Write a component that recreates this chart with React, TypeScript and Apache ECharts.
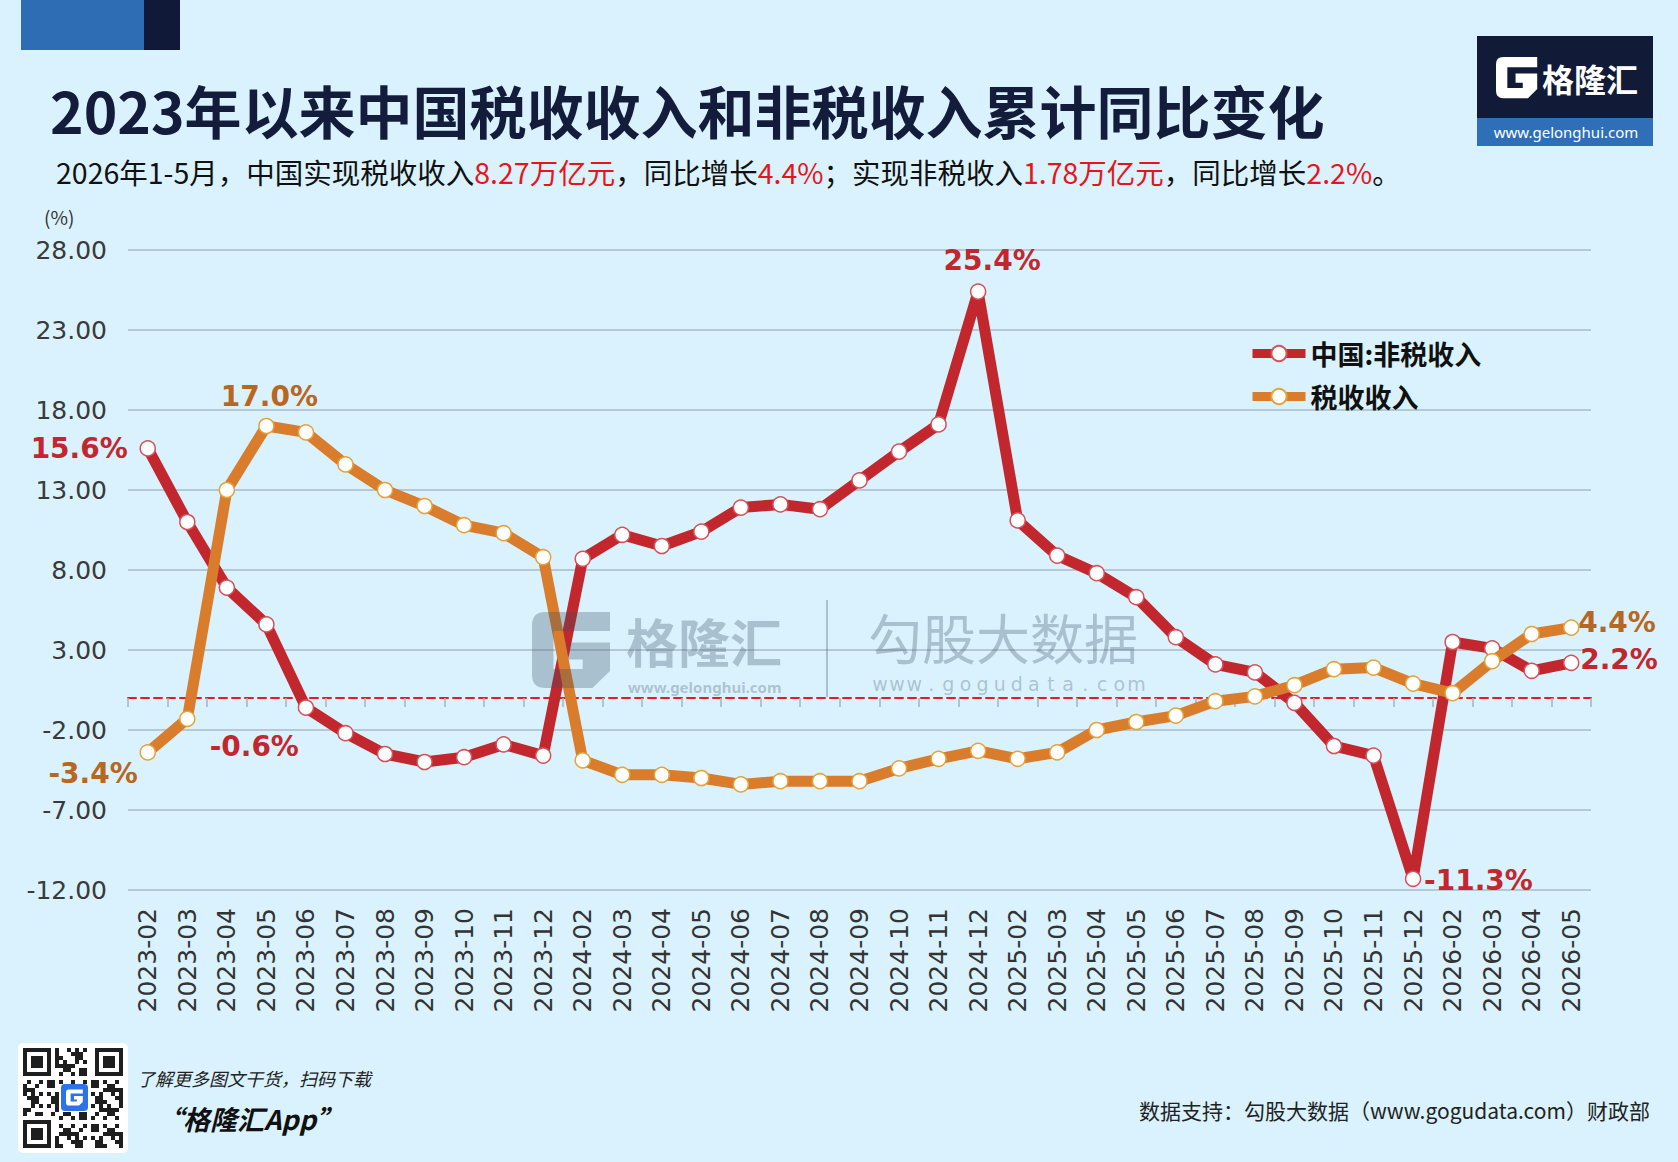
import React, { useEffect, useRef } from "react";
import * as echarts from "echarts";

// ---------------- DATA ----------------
const categories = [
  "2023-02", "2023-03", "2023-04", "2023-05", "2023-06", "2023-07", "2023-08", "2023-09", "2023-10", "2023-11", "2023-12",
  "2024-02", "2024-03", "2024-04", "2024-05", "2024-06", "2024-07", "2024-08", "2024-09", "2024-10", "2024-11", "2024-12",
  "2025-02", "2025-03", "2025-04", "2025-05", "2025-06", "2025-07", "2025-08", "2025-09", "2025-10", "2025-11", "2025-12",
  "2026-02", "2026-03", "2026-04", "2026-05",
];

const NON_TAX_NAME = "中国:非税收入";
const TAX_NAME = "税收收入";

const nonTaxYoY = [
  15.6, 11.0, 6.9, 4.6, -0.6, -2.2, -3.5, -4.0, -3.7, -2.9, -3.6,
  8.7, 10.2, 9.5, 10.4, 11.9, 12.1, 11.8, 13.6, 15.4, 17.1, 25.4,
  11.1, 8.9, 7.8, 6.3, 3.8, 2.1, 1.6, -0.3, -3.0, -3.6, -11.3,
  3.5, 3.1, 1.7, 2.2,
];

const taxYoY = [
  -3.4, -1.3, 13.0, 17.0, 16.6, 14.6, 13.0, 12.0, 10.8, 10.3, 8.8,
  -3.9, -4.8, -4.8, -5.0, -5.4, -5.2, -5.2, -5.2, -4.4, -3.8, -3.3,
  -3.8, -3.4, -2.0, -1.5, -1.1, -0.2, 0.1, 0.8, 1.8, 1.9, 0.9,
  0.3, 2.3, 4.0, 4.4,
];

const Y_MIN = -12;
const Y_MAX = 28;
const Y_STEP = 5;

const TITLE = "2023年以来中国税收收入和非税收入累计同比变化";
const subtitleParts: [string, string][] = [
  ["2026年1-5月，中国实现税收收入", "n"],
  ["8.27万亿元", "r"],
  ["，同比增长", "n"],
  ["4.4%", "r"],
  ["；实现非税收入", "n"],
  ["1.78万亿元", "r"],
  ["，同比增长", "n"],
  ["2.2%", "r"],
  ["。", "n"],
];
const SOURCE = "数据支持：勾股大数据（www.gogudata.com）财政部";

// ---------------- STYLE ----------------
const W = 1678;
const H = 1162;
const BG = "#d9f2fd";
const RED = "#c1272d";
const ORANGE = "#d97c2c";
const RED_LABEL = "#c1272d";
const ORANGE_LABEL = "#b9661f";
const CJK = "Noto Sans CJK SC";
const LATIN = "DejaVu Sans";

// label placements (offset from point, text alignment)
type LabelCfg = { dx: number; dy: number; align: string };
const nonTaxLabelCfg: Record<number, LabelCfg> = {
  0: { dx: -20, dy: 0, align: "right" },
  4: { dx: -7, dy: 39, align: "right" },
  21: { dx: 14, dy: -31, align: "center" },
  32: { dx: 11, dy: 2, align: "left" },
  36: { dx: 9, dy: -3, align: "left" },
};
const taxLabelCfg: Record<number, LabelCfg> = {
  0: { dx: -10, dy: 21, align: "right" },
  3: { dx: 3, dy: -30, align: "center" },
  36: { dx: 7, dy: -5, align: "left" },
};

const G_PATH =
  "M7 0 L40 0 L40 10 L11 10 L11 30 L26 30 L26 25 L19 25 L19 16 L40 16 L40 31 L31 40 L7 40 Q0 40 0 33 L0 7 Q0 0 7 0 Z";

let shapesRegistered = false;
function registerShapes() {
  if (shapesRegistered) return;
  echarts.graphic.registerShape("glogo", echarts.graphic.extendPath(G_PATH, {}) as any);
  shapesRegistered = true;
}

function buildData(values: number[], cfg: Record<number, LabelCfg>, color: string) {
  return values.map((v, i) => {
    const c = cfg[i];
    if (!c) return v;
    return {
      value: v,
      label: {
        show: true,
        position: "inside",
        offset: [c.dx, c.dy],
        align: c.align,
        verticalAlign: "middle",
        color,
        fontFamily: LATIN,
        fontWeight: "bold",
        fontSize: 28,
        formatter: (p: any) => `${Number(p.value).toFixed(1)}%`,
      },
    };
  });
}

function qrElements() {
  const els: any[] = [];
  els.push({ type: "rect", z: 10, shape: { x: 18, y: 1043, width: 110, height: 110, r: 5 }, style: { fill: "#ffffff" } });
  const N = 25;
  const M = 4;
  const ox = 23;
  const oy = 1048;
  const finderOrigins = [
    [0, 0],
    [0, N - 7],
    [N - 7, 0],
  ];
  const inFinderZone = (r: number, c: number) =>
    finderOrigins.some(([fr, fc]) => r >= fr - 1 && r <= fr + 7 && c >= fc - 1 && c <= fc + 7);
  for (let r = 0; r < N; r++) {
    for (let c = 0; c < N; c++) {
      let dark = false;
      const f = finderOrigins.find(([fr, fc]) => r >= fr && r < fr + 7 && c >= fc && c < fc + 7);
      if (f) {
        const rr = r - f[0];
        const cc = c - f[1];
        dark = rr === 0 || rr === 6 || cc === 0 || cc === 6 || (rr >= 2 && rr <= 4 && cc >= 2 && cc <= 4);
      } else if (inFinderZone(r, c)) {
        dark = false;
      } else if (r >= 9 && r <= 15 && c >= 9 && c <= 15) {
        dark = false;
      } else {
        dark = (r * 31 + c * 17 + r * c * 7) % 11 < 5;
      }
      if (dark) {
        els.push({ type: "rect", z: 11, shape: { x: ox + c * M, y: oy + r * M, width: M, height: M }, style: { fill: "#1e1e1e" } });
      }
    }
  }
  els.push({ type: "rect", z: 12, shape: { x: 61, y: 1084, width: 27, height: 27, r: 4 }, style: { fill: "#2b73e6" } });
  els.push({ type: "glogo", z: 13, x: 66, y: 1089.5, scaleX: 0.42, scaleY: 0.4, style: { fill: "#ffffff" } });
  return els;
}

function watermark() {
  const wm = "rgba(60,78,98,0.30)";
  const els: any[] = [];
  els.push({ type: "glogo", z: 100, x: 532, y: 612, scaleX: 1.95, scaleY: 1.9, style: { fill: wm } });
  els.push({
    type: "text", z: 100, x: 626, y: 640,
    style: { text: "格隆汇", fill: wm, font: `bold 52px "${CJK}"`, align: "left", verticalAlign: "middle" },
  });
  els.push({
    type: "text", z: 100, x: 628, y: 687,
    style: { text: "www.gelonghui.com", fill: wm, font: `bold 15px "Noto Sans"`, align: "left", verticalAlign: "middle" },
  });
  els.push({ type: "line", z: 100, shape: { x1: 827, y1: 600, x2: 827, y2: 697 }, style: { stroke: wm, lineWidth: 2 } });
  els.push({
    type: "text", z: 100, x: 868, y: 636,
    style: { text: "勾股大数据", fill: wm, font: `54px "${CJK}"`, align: "left", verticalAlign: "middle" },
  });
  const url = "www.gogudata.com";
  for (let i = 0; i < url.length; i++) {
    els.push({
      type: "text", z: 100, x: 880 + i * 17.1, y: 684,
      style: { text: url[i], fill: wm, font: `19px "DejaVu Sans"`, align: "center", verticalAlign: "middle" },
    });
  }
  return els;
}

function decorations() {
  const els: any[] = [];
  // top-left tab
  els.push({ type: "rect", shape: { x: 21, y: 0, width: 123, height: 50 }, style: { fill: "#2e6db4" } });
  els.push({ type: "rect", shape: { x: 144, y: 0, width: 36, height: 50 }, style: { fill: "#101a38" } });
  // top-right logo box
  els.push({ type: "rect", shape: { x: 1477, y: 36, width: 176, height: 82 }, style: { fill: "#111a36" } });
  els.push({ type: "rect", shape: { x: 1477, y: 118, width: 176, height: 28 }, style: { fill: "#2f6fb8" } });
  els.push({ type: "glogo", x: 1496, y: 57, scaleX: 1.03, scaleY: 1.03, style: { fill: "#ffffff" } });
  els.push({
    type: "text", x: 1542, y: 78,
    style: { text: "格隆汇", fill: "#ffffff", font: `bold 32px "${CJK}"`, align: "left", verticalAlign: "middle" },
  });
  els.push({
    type: "text", x: 1566, y: 132,
    style: { text: "www.gelonghui.com", fill: "#ffffff", font: `15px "Noto Sans"`, align: "center", verticalAlign: "middle" },
  });
  // unit label
  els.push({
    type: "text", x: 44, y: 216,
    style: { text: "(%)", fill: "#333333", font: `19px "${CJK}"`, align: "left", verticalAlign: "middle" },
  });
  // footer
  els.push({
    type: "text", x: 137, y: 1078,
    style: { text: "了解更多图文干货，扫码下载", fill: "#222222", font: `italic 18px "${CJK}"`, align: "left", verticalAlign: "middle" },
  });
  els.push({
    type: "text", x: 156, y: 1118,
    style: { text: "“格隆汇App”", fill: "#111111", font: `italic bold 27px "${CJK}"`, align: "left", verticalAlign: "middle" },
  });
  els.push({
    type: "text", x: 1650, y: 1110,
    style: { text: SOURCE, fill: "#222222", font: `21px "${CJK}"`, align: "right", verticalAlign: "middle" },
  });
  return els;
}

function buildOption(): any {
  const subtitleText = subtitleParts.map(([t, k]) => `{${k}|${t}}`).join("");
  return {
    animation: false,
    backgroundColor: BG,
    title: [
      {
        text: TITLE,
        left: 50,
        top: 80,
        padding: 0,
        textStyle: { fontFamily: CJK, fontWeight: "bold", fontSize: 57, color: "#131c3a" },
      },
      {
        text: subtitleText,
        left: 56,
        top: 157,
        padding: 0,
        textStyle: {
          fontFamily: CJK,
          fontSize: 28.5,
          fontWeight: "normal",
          rich: {
            n: { fontFamily: CJK, fontSize: 28.5, fontWeight: "normal", color: "#111111" },
            r: { fontFamily: CJK, fontSize: 28.5, fontWeight: "normal", color: "#e8141b" },
          },
        },
      },
    ],
    legend: {
      orient: "vertical",
      left: 1243,
      top: 335,
      itemWidth: 53,
      itemHeight: 19,
      itemGap: 16,
      data: [NON_TAX_NAME, TAX_NAME],
      lineStyle: { width: 9 },
      textStyle: { fontFamily: CJK, fontSize: 27, fontWeight: "bold", color: "#111111" },
    },
    grid: { left: 128, right: 87, top: 250, bottom: 272, containLabel: false, outerBoundsMode: "none" },
    xAxis: [
      {
        type: "category",
        data: categories,
        boundaryGap: true,
        axisLine: { show: true, onZero: true, lineStyle: { color: "#e51c23", width: 2, type: [8, 5] } },
        axisTick: { show: true, interval: 0, length: 9, lineStyle: { color: "#a3b4bf", width: 1.5 } },
        axisLabel: { show: false },
        splitLine: { show: false },
      },
      {
        type: "category",
        data: categories,
        position: "bottom",
        boundaryGap: true,
        axisLine: { show: false, onZero: false },
        axisTick: { show: false },
        axisLabel: {
          show: true,
          interval: 0,
          rotate: 90,
          margin: 18,
          fontFamily: LATIN,
          fontSize: 25,
          color: "#333333",
        },
        splitLine: { show: false },
      },
    ],
    yAxis: {
      type: "value",
      min: Y_MIN,
      max: Y_MAX,
      interval: Y_STEP,
      axisLine: { show: false },
      axisTick: { show: false },
      axisLabel: {
        margin: 21,
        fontFamily: LATIN,
        fontSize: 25,
        color: "#3a3a3a",
        formatter: (v: number) => v.toFixed(2),
      },
      splitLine: { show: true, lineStyle: { color: "#b3cad6", width: 2 } },
    },
    series: [
      {
        name: NON_TAX_NAME,
        type: "line",
        xAxisIndex: 0,
        yAxisIndex: 0,
        data: buildData(nonTaxYoY, nonTaxLabelCfg, RED_LABEL),
        symbol: "circle",
        symbolSize: 15,
        color: RED,
        lineStyle: { color: RED, width: 11 },
        itemStyle: { color: "#ffffff", borderColor: "#d8505a", borderWidth: 1.5 },
        emphasis: { disabled: true },
        z: 3,
      },
      {
        name: TAX_NAME,
        type: "line",
        xAxisIndex: 0,
        yAxisIndex: 0,
        data: buildData(taxYoY, taxLabelCfg, ORANGE_LABEL),
        symbol: "circle",
        symbolSize: 15,
        color: ORANGE,
        lineStyle: { color: ORANGE, width: 11 },
        itemStyle: { color: "#ffffff", borderColor: "#e5a33a", borderWidth: 1.5 },
        emphasis: { disabled: true },
        z: 4,
      },
    ],
    graphic: [...decorations(), ...qrElements(), ...watermark()],
  };
}

export default function App() {
  const ref = useRef<HTMLDivElement>(null);
  useEffect(() => {
    if (!ref.current) return;
    registerShapes();
    const chart = echarts.init(ref.current, null, { renderer: "svg" });
    chart.setOption(buildOption());
    return () => {
      chart.dispose();
    };
  }, []);
  return <div ref={ref} style={{ position: "absolute", left: 0, top: 0, width: W, height: H }} />;
}
